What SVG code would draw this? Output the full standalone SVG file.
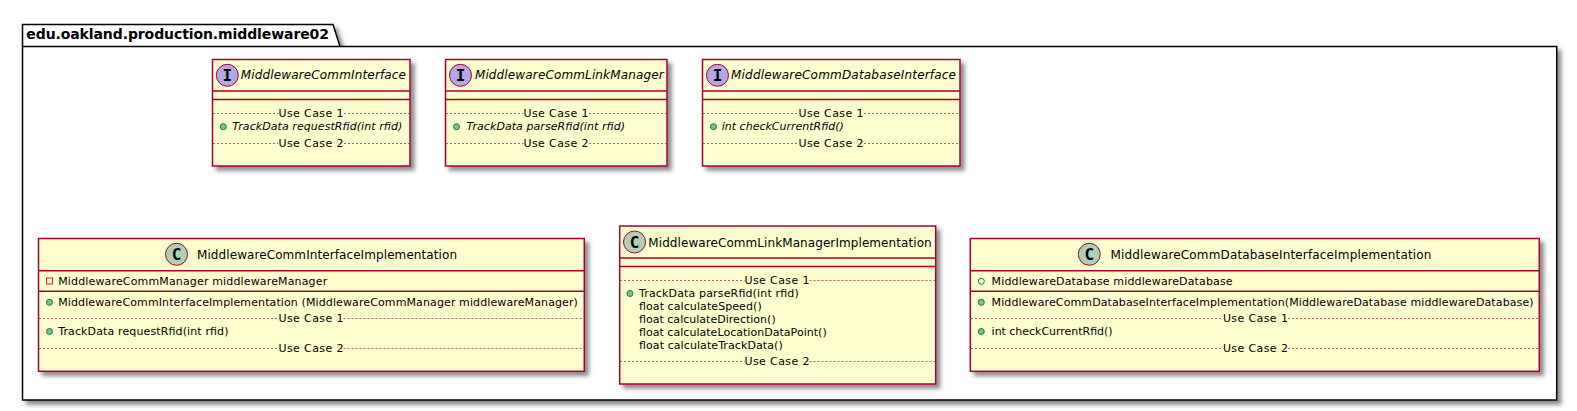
<svg xmlns="http://www.w3.org/2000/svg" width="1577" height="411" viewBox="0 0 1577 411">
<style>
text{font-family:"DejaVu Sans",sans-serif;fill:#000}
.box{fill:#FEFECE;stroke:#A80036;stroke-width:1.5;filter:url(#sh)}
.div{stroke:#A80036;stroke-width:1.5;fill:none}
.dot{stroke:#A80036;stroke-width:1;stroke-dasharray:2 2;fill:none;stroke-opacity:.65}
.name{font-size:12px}
.iname{font-size:12px;font-style:italic}
.m{font-size:11px}
.mi{font-size:11px;font-style:italic}
.uc{font-size:11px;text-anchor:middle}
.ci{fill:#ADD1B2;stroke:#A80036;stroke-width:1}
.ii{fill:#B4A7E5;stroke:#A80036;stroke-width:1}
.gl{font-family:"DejaVu Sans Mono",monospace;font-weight:700;font-size:16px;text-anchor:middle}
.pub{fill:#84BE84;stroke:#038048;stroke-width:1}
.pf{fill:none;stroke:#038048;stroke-width:1}
.pr{fill:none;stroke:#C82930;stroke-width:1}
.pk{fill:#fff;stroke:#000;stroke-width:1.5;filter:url(#sh)}
.tab{fill:none;stroke:#000;stroke-width:1.5}
</style>
<defs>
<filter id="sh" x="-5%" y="-5%" width="110%" height="115%">
<feDropShadow dx="4" dy="4" stdDeviation="2" flood-color="#000" flood-opacity="0.45"/>
</filter>
</defs>
<g id="package">
<path class="pk" d="M22.5 46.5V24.5H333L340 46.5H1556.7V400H22.5Z"/>
<path class="tab" d="M22.5 46.5H340"/>
<text x="26.3" y="39" font-size="14" font-weight="700" textLength="302.7">edu.oakland.production.middleware02</text>
</g>
<g id="MiddlewareCommInterface">
<rect class="box" x="212.5" y="59.5" width="197.5" height="106.5"/>
<circle class="ii" cx="227.3" cy="75.3" r="11"/><text class="gl" x="227.3" y="80.8">I</text>
<text class="iname" x="240.7" y="79.3" textLength="165.3">MiddlewareCommInterface</text>
<path class="div" d="M212.5 91H410M212.5 99.5H410"/>
<path class="dot" d="M213 113.5H278M344 113.5H409.5M213 143.5H278M344 143.5H409.5"/>
<text class="uc" x="311" y="117.3" textLength="65">Use Case 1</text>
<circle class="pub" cx="223.3" cy="126.7" r="3"/>
<text class="mi" x="232.3" y="130" textLength="170">TrackData requestRfid(int rfid)</text>
<text class="uc" x="311" y="146.5" textLength="65">Use Case 2</text>
</g>
<g id="MiddlewareCommLinkManager">
<rect class="box" x="445.5" y="59.5" width="221.5" height="106.5"/>
<circle class="ii" cx="460.5" cy="75.3" r="11"/><text class="gl" x="460.5" y="80.8">I</text>
<text class="iname" x="474.9" y="79.3" textLength="188.7">MiddlewareCommLinkManager</text>
<path class="div" d="M445.5 91H667M445.5 99.5H667"/>
<path class="dot" d="M446 113.5H523.5M589 113.5H666.5M446 143.5H523.5M589 143.5H666.5"/>
<text class="uc" x="556" y="117.3" textLength="65">Use Case 1</text>
<circle class="pub" cx="456.5" cy="126.7" r="3"/>
<text class="mi" x="466.5" y="130" textLength="158.5">TrackData parseRfid(int rfid)</text>
<text class="uc" x="556" y="146.5" textLength="65">Use Case 2</text>
</g>
<g id="MiddlewareCommDatabaseInterface">
<rect class="box" x="702.5" y="59.5" width="257.5" height="106.5"/>
<circle class="ii" cx="717.5" cy="75.3" r="11"/><text class="gl" x="717.5" y="80.8">I</text>
<text class="iname" x="731" y="79.3" textLength="225">MiddlewareCommDatabaseInterface</text>
<path class="div" d="M702.5 91H960M702.5 99.5H960"/>
<path class="dot" d="M703 113.5H798.5M864 113.5H959.5M703 143.5H798.5M864 143.5H959.5"/>
<text class="uc" x="831" y="117.3" textLength="65">Use Case 1</text>
<circle class="pub" cx="713.5" cy="126.7" r="3"/>
<text class="mi" x="721.8" y="130" textLength="122">int checkCurrentRfid()</text>
<text class="uc" x="831" y="146.5" textLength="65">Use Case 2</text>
</g>
<g id="MiddlewareCommInterfaceImplementation">
<rect class="box" x="38.5" y="238.5" width="545.8" height="132.8"/>
<circle class="ci" cx="176.5" cy="254.3" r="11"/><text class="gl" x="176.5" y="260.2">C</text>
<text class="name" x="197" y="259" textLength="260">MiddlewareCommInterfaceImplementation</text>
<path class="div" d="M38.5 270.7H584.3M38.5 291.3H584.3"/>
<rect class="pr" x="46.5" y="278" width="6" height="6"/>
<text class="m" x="58.2" y="285" textLength="269">MiddlewareCommManager middlewareManager</text>
<circle class="pub" cx="49.5" cy="302.3" r="3"/>
<text class="m" x="58.2" y="306" textLength="519.7">MiddlewareCommInterfaceImplementation (MiddlewareCommManager middlewareManager)</text>
<path class="dot" d="M39 318.5H278.5M343.5 318.5H583.8M39 348.5H278.5M343.5 348.5H583.8"/>
<text class="uc" x="311" y="322.3" textLength="65">Use Case 1</text>
<circle class="pub" cx="49.5" cy="331.5" r="3"/>
<text class="m" x="58.2" y="335" textLength="170.3">TrackData requestRfid(int rfid)</text>
<text class="uc" x="311" y="351.5" textLength="65">Use Case 2</text>
</g>
<g id="MiddlewareCommLinkManagerImplementation">
<rect class="box" x="619.7" y="226" width="316" height="158"/>
<circle class="ci" cx="634.5" cy="242" r="11"/><text class="gl" x="634.5" y="247.9">C</text>
<text class="name" x="648.3" y="246.5" textLength="283.4">MiddlewareCommLinkManagerImplementation</text>
<path class="div" d="M619.7 258H935.7M619.7 266.5H935.7"/>
<path class="dot" d="M620 280.5H744.5M809.5 280.5H935M620 361.5H744.5M809.5 361.5H935"/>
<text class="uc" x="777" y="284.3" textLength="65">Use Case 1</text>
<circle class="pub" cx="630" cy="293.5" r="3"/>
<text class="m" x="639" y="297" textLength="159.7">TrackData parseRfid(int rfid)</text>
<text class="m" x="639" y="310" textLength="122.7">float calculateSpeed()</text>
<text class="m" x="639" y="323" textLength="136.7">float calculateDirection()</text>
<text class="m" x="639" y="335.5" textLength="187.7">float calculateLocationDataPoint()</text>
<text class="m" x="639" y="348.5" textLength="143.7">float calculateTrackData()</text>
<text class="uc" x="777" y="365" textLength="65">Use Case 2</text>
</g>
<g id="MiddlewareCommDatabaseInterfaceImplementation">
<rect class="box" x="970.3" y="238.5" width="569" height="132.8"/>
<circle class="ci" cx="1089.3" cy="254.3" r="11"/><text class="gl" x="1089.3" y="260.2">C</text>
<text class="name" x="1110.4" y="259" textLength="321">MiddlewareCommDatabaseInterfaceImplementation</text>
<path class="div" d="M970.3 270.7H1539.3M970.3 291.3H1539.3"/>
<circle class="pf" cx="981.3" cy="281.3" r="3"/>
<text class="m" x="991.6" y="285" textLength="241">MiddlewareDatabase middlewareDatabase</text>
<circle class="pub" cx="981.3" cy="302.3" r="3"/>
<text class="m" x="991.6" y="306" textLength="542">MiddlewareCommDatabaseInterfaceImplementation(MiddlewareDatabase middlewareDatabase)</text>
<path class="dot" d="M971 318.5H1222.5M1288 318.5H1539M971 348.5H1222.5M1288 348.5H1539"/>
<text class="uc" x="1255.4" y="322.3" textLength="65">Use Case 1</text>
<circle class="pub" cx="981.3" cy="331.5" r="3"/>
<text class="m" x="991.6" y="335" textLength="121">int checkCurrentRfid()</text>
<text class="uc" x="1255.4" y="351.5" textLength="65">Use Case 2</text>
</g>
</svg>
